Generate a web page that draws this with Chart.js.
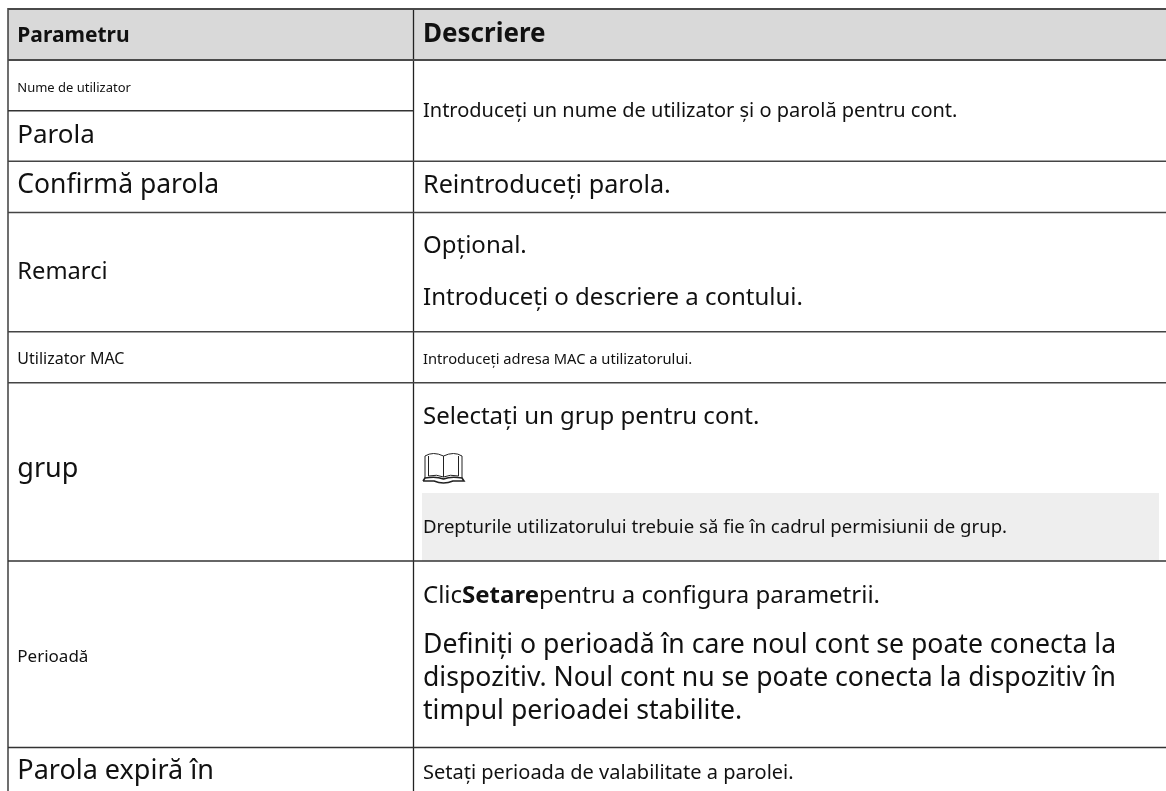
<!DOCTYPE html>
<html lang="ro">
<head>
<meta charset="utf-8">
<title>Parametru / Descriere</title>
<script src="https://cdn.jsdelivr.net/npm/chart.js@4"></script>
<style>
  html, body { margin: 0; background: #fff; }
  canvas { display: block; }
</style>
</head>
<body>
<canvas id="tableChart" width="1166" height="791"></canvas>
<script>
// contents of the table
const headers = ["Parametru", "Descriere"];
const parameters = ["Nume de utilizator", "Parola", "Confirmă parola", "Remarci", "Utilizator MAC", "grup", "Perioadă", "Parola expiră în"];
const descriptions = [
    "Introduceți un nume de utilizator și o parolă pentru cont.",
    "Reintroduceți parola.",
    "Opțional.",
    "Introduceți o descriere a contului.",
    "Introduceți adresa MAC a utilizatorului.",
    "Selectați un grup pentru cont.",
    "Drepturile utilizatorului trebuie să fie în cadrul permisiunii de grup.",
    "pentru a configura parametrii.",
    "Definiți o perioadă în care noul cont se poate conecta la",
    "dispozitiv. Noul cont nu se poate conecta la dispozitiv în",
    "timpul perioadei stabilite.",
    "Setați perioada de valabilitate a parolei."
];

// layout, in page pixels: the scales below run 1:1 over the canvas
const left = 8, middle = 413.5, right = 1166;
const font = '"Noto Sans", sans-serif';
const hRules = [[9, left, 2, "#4a4a4a"], [60, left, 2, "#4a4a4a"], [110.7, left, 1.5, "#333", middle], [161.3, left, 1.5, "#444"],
    [212.5, left, 1.5, "#444"], [331.7, left, 1.5, "#444"], [382.7, left, 1.5, "#444"], [561, left, 1.5, "#333"], [747.5, left, 1.5, "#333"]];
const vRules = [left, middle];
const paramText = [[92, 13], [142.7, 26], [193.3, 26.5], [279, 23.7], [364, 16], [477, 27], [662, 17], [779, 27]];
const descText = [[117, 20], [193, 25.2], [253.3, 24], [305, 24], [364, 14.7], [423.5, 24], [533, 18.6], [602.7, 24], [652.7, 26.6], [686, 26.6], [719.3, 26.6], [779.3, 20]];

const ruleSets = hRules.map(r => ({
    type: 'scatter', showLine: true, pointRadius: 0, borderColor: r[3], borderWidth: r[2],
    data: [{x: r[1], y: r[0]}, {x: r[4] || right, y: r[0]}]
})).concat(vRules.map(x => ({
    type: 'scatter', showLine: true, pointRadius: 0, borderColor: "#222", borderWidth: 1.3,
    data: [{x: x, y: 8}, {x: x, y: 791}]
})));

// fills under the rules, text and the note icon on top
const tablePlugin = {
    id: 'tablePlugin',
    beforeDatasetsDraw(chart) {
        const {ctx, scales: {x, y}} = chart;
        const box = (x0, y0, x1, y1, c) => {
            ctx.fillStyle = c;
            ctx.fillRect(x.getPixelForValue(x0), y.getPixelForValue(y0), x1 - x0, y1 - y0);
        };
        box(left, 9, right, 60, "#d9d9d9");
        box(422, 493, 1159, 561, "#eeeeee");
    },
    afterDatasetsDraw(chart) {
        const {ctx, scales: {x, y}} = chart;
        ctx.textBaseline = "alphabetic";
        ctx.textAlign = "left";
        const put = (txt, px, py, size, bold) => {
            ctx.font = (bold ? "bold " : "") + size + "px " + font;
            ctx.fillStyle = "#111";
            ctx.fillText(txt, x.getPixelForValue(px), y.getPixelForValue(py));
            return ctx.measureText(txt).width;
        };
        put(headers[0], 17.3, 42, 21, true);
        put(headers[1], 423, 42, 26, true);
        parameters.forEach((t, i) => put(t, 17.3, paramText[i][0], paramText[i][1]));
        descriptions.forEach((t, i) => {
            if (i === 7) {
                // "Clic" + bold "Setare" + rest, run together as in the original
                let cx = 423;
                cx += put("Clic", cx, descText[i][0], descText[i][1]);
                cx += put("Setare", cx, descText[i][0], descText[i][1], true);
                put(t, cx, descText[i][0], descText[i][1]);
            } else {
                put(t, 423, descText[i][0], descText[i][1]);
            }
        });
        // book icon
        ctx.strokeStyle = "#222";
        ctx.lineWidth = 1;
        ctx.beginPath();
        ctx.moveTo(443.5, 456); ctx.lineTo(443.5, 477);
        ctx.moveTo(443.5, 456); ctx.quadraticCurveTo(433, 451, 425, 456); ctx.lineTo(425, 478);
        ctx.moveTo(443.5, 456); ctx.quadraticCurveTo(454, 451, 462, 456); ctx.lineTo(462, 478);
        ctx.moveTo(428.5, 456); ctx.lineTo(428.5, 476); ctx.quadraticCurveTo(437, 474, 443.5, 477);
        ctx.moveTo(458.5, 456); ctx.lineTo(458.5, 476); ctx.quadraticCurveTo(450, 474, 443.5, 477);
        ctx.stroke();
        ctx.lineWidth = 1.6;
        ctx.beginPath();
        ctx.moveTo(423, 481); ctx.lineTo(425, 478); ctx.quadraticCurveTo(436, 476, 443.5, 479);
        ctx.quadraticCurveTo(451, 476, 462, 478); ctx.lineTo(464, 481); ctx.lineTo(453, 481);
        ctx.quadraticCurveTo(443.5, 485, 434, 481); ctx.lineTo(423, 481);
        ctx.stroke();
    }
};

new Chart(document.getElementById("tableChart"), {
    type: 'scatter',
    data: { datasets: ruleSets },
    options: {
        responsive: false,
        animation: false,
        layout: { padding: 0 },
        plugins: { legend: { display: false }, title: { display: false }, tooltip: { enabled: false } },
        scales: {
            x: { type: 'linear', min: 0, max: 1166, display: false },
            y: { type: 'linear', min: 0, max: 791, reverse: true, display: false }
        }
    },
    plugins: [tablePlugin]
});
</script>
</body>
</html>
